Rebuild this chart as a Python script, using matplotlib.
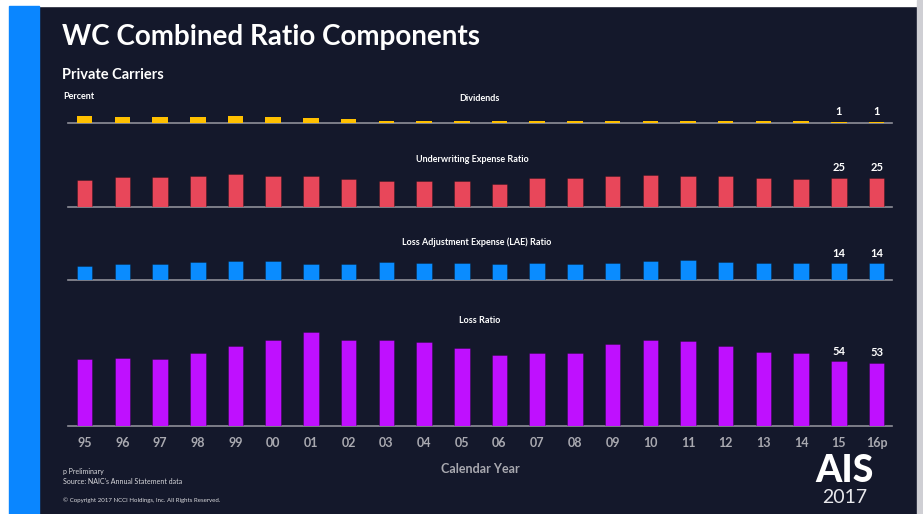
import matplotlib.pyplot as plt
import matplotlib.patches as patches
import numpy as np

# Календарні роки
years = ['95', '96', '97', '98', '99', '00', '01', '02', '03', '04', '05',
         '06', '07', '08', '09', '10', '11', '12', '13', '14', '15', '16p']

# Складові комбінованого коефіцієнта, %
dividends = [5.6, 4.5, 5.0, 5.0, 5.3, 4.5, 3.6, 2.8, 1.4, 1.2, 1.2,
             1.1, 1.1, 1.1, 1.1, 1.1, 1.1, 1.1, 1.1, 1.1, 1, 1]
uw_expense = [23.2, 25.2, 25.7, 26.6, 28.0, 26.3, 26.0, 23.5, 22.1, 21.8, 22.1,
              19.6, 24.4, 24.4, 26.0, 26.9, 26.0, 26.0, 24.9, 24.0, 25, 25]
lae = [12.0, 13.4, 13.4, 15.1, 15.7, 15.7, 13.4, 13.4, 14.9, 14.3, 14.3,
       13.4, 14.3, 13.7, 14.5, 16.0, 16.8, 15.1, 14.3, 14.3, 14, 14]
loss = [56.0, 56.6, 56.0, 61.0, 67.0, 72.0, 79.0, 71.8, 72.0, 70.0, 65.3,
        59.4, 61.0, 61.0, 68.7, 71.8, 71.2, 67.0, 62.0, 60.8, 54, 53]

BG = '#14182b'
W, H = 923, 514
PPU = 1.19  # пікселів на 1 процентний пункт

fig = plt.figure(figsize=(W / 100, H / 100), dpi=100)
fig.patch.set_facecolor(BG)
plt.rcParams['font.family'] = ['Lato', 'DejaVu Sans']


def fx(x):
    return x / W


def fy(y):
    return 1 - y / H


# Рамка слайда: біла смуга зверху і зліва, синя смуга, сіра смуга справа
fig.patches.append(patches.Rectangle((0, fy(6)), 1, 6 / H, transform=fig.transFigure,
                                     color='white', zorder=0))
fig.patches.append(patches.Rectangle((0, 0), fx(9), 1, transform=fig.transFigure,
                                     color='white', zorder=0))
fig.patches.append(patches.Rectangle((fx(9), 0), fx(30), fy(6), transform=fig.transFigure,
                                     color='#0a86ff', zorder=1))
fig.patches.append(patches.Rectangle((fx(917), 0), fx(6), 1, transform=fig.transFigure,
                                     color='#cfcfd4', zorder=1))

# Заголовки
fig.text(fx(62), fy(45), 'WC Combined Ratio Components', color='white',
         fontsize=20, fontweight='bold', va='baseline')
fig.text(fx(62), fy(79), 'Private Carriers', color='white',
         fontsize=10.5, fontweight='bold', va='baseline')
fig.text(fx(63), fy(99), 'Percent', color='white',
         fontsize=6.5, fontweight='bold', va='baseline')

x = np.arange(len(years))
x_left, x_right = 67.7, 891.7

# (дані, колір, товщина контуру, базова лінія, висота осі, заголовок, центр і базова лінія заголовка)
panels = [
    (dividends, '#ffc000', 0, 122.7, 14, 'Dividends', 479, 101),
    (uw_expense, '#e8475a', 0.7, 207.3, 40, 'Underwriting Expense Ratio', 472, 162),
    (lae, '#0a8cff', 0.7, 280.0, 28, 'Loss Adjustment Expense (LAE) Ratio', 477, 245),
    (loss, '#bf10ff', 0.7, 425.7, 100, 'Loss Ratio', 480, 323),
]

for values, color, lw, base, h_px, title, tx, ty in panels:
    ax = fig.add_axes([fx(x_left), fy(base), (x_right - x_left) / W, h_px / H])
    ax.set_facecolor('none')
    ax.bar(x, values, width=0.41, color=color, edgecolor=(0, 0, 0, 0.25),
           linewidth=lw, zorder=2)
    ax.set_xlim(-0.45, len(years) - 0.6)
    ax.set_ylim(0, h_px / PPU)
    for s in ['top', 'right', 'left']:
        ax.spines[s].set_visible(False)
    ax.spines['bottom'].set_color('#8e8e98')
    ax.spines['bottom'].set_linewidth(1.2)
    ax.spines['bottom'].set_zorder(1)
    ax.set_yticks([])
    ax.tick_params(axis='x', length=0)
    ax.set_xticks(x)
    if values is loss:
        ax.set_xticklabels(years, color='#a9a9b0', fontsize=9, fontweight='bold')
        ax.tick_params(axis='x', pad=8)
    else:
        ax.set_xticklabels([])
    # підписи значень для двох останніх років
    for i in (len(years) - 2, len(years) - 1):
        ax.annotate(f'{values[i]:.0f}', (x[i], values[i]), xytext=(0, 3),
                    textcoords='offset points', ha='center', va='bottom',
                    color='white', fontsize=8, fontweight='bold')
    fig.text(fx(tx), fy(ty), title, color='white', fontsize=6.5,
             fontweight='bold', ha='center', va='baseline')

fig.text(fx(480), fy(473), 'Calendar Year', color='#a9a9b0', fontsize=9,
         fontweight='bold', ha='center', va='baseline')

# Примітки
fig.text(fx(63), fy(474), 'p Preliminary', color='#d8d8dc', fontsize=5, va='baseline')
fig.text(fx(63), fy(484), "Source: NAIC's Annual Statement data", color='#d8d8dc',
         fontsize=5, va='baseline')
fig.text(fx(63), fy(502), '\u00a9 Copyright 2017 NCCI Holdings, Inc. All Rights Reserved.',
         color='#d8d8dc', fontsize=4.4, va='baseline')

# Логотип
fig.text(fx(845), fy(482), 'AIS', color='white', fontsize=27, fontweight='black',
         ha='center', va='baseline')
fig.text(fx(845), fy(503), '2017', color='#e8e8ec', fontsize=14, fontweight='normal',
         ha='center', va='baseline')

plt.savefig('out.png', dpi=100, facecolor=fig.get_facecolor())
